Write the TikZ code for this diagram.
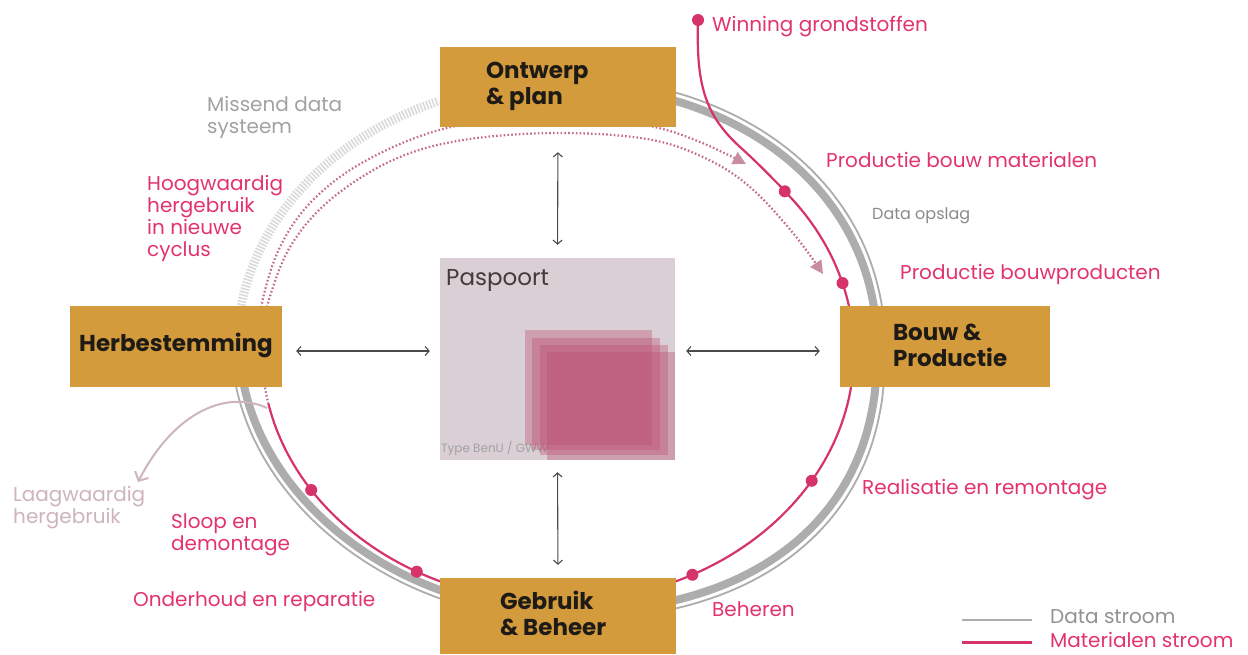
\documentclass[tikz,border=0pt]{standalone}
\usepackage{fontspec}
\setmainfont{Poppins}
\usetikzlibrary{arrows.meta}
\definecolor{gold}{HTML}{D49B3C}
\definecolor{magline}{HTML}{D6336A}
\definecolor{magtxt}{HTML}{E3336E}
\definecolor{ringc}{HTML}{ADADAD}
\definecolor{ringlt}{HTML}{DADADA}
\definecolor{dotmag}{HTML}{C46A8B}
\definecolor{dotarrow}{HTML}{C98DA2}
\definecolor{mauve}{HTML}{CDB4BE}
\definecolor{paspbg}{HTML}{D9CFD4}
\definecolor{pinksq}{HTML}{BD5175}
\definecolor{graytxt}{HTML}{A2A2A2}
\definecolor{darktxt}{HTML}{1E1A16}
\definecolor{arrowc}{HTML}{4A4A4A}
\begin{document}
\begin{tikzpicture}[x=1pt,y=-1pt,
  box/.style={fill=gold, draw=none, inner sep=0pt, minimum width=#1, anchor=center},
  boxtxt/.style={anchor=west, inner sep=0pt, font=\fontsize{23}{26}\selectfont\bfseries, text=darktxt, align=left},
  lab/.style={anchor=west, inner sep=0pt, font=\fontsize{20}{22}\selectfont, text=magtxt, align=left},
  thickring/.style={ringc, line width=8pt},
  thinring/.style={ringc, line width=1.8pt},
  matline/.style={magline, line width=2.2pt},
  dotline/.style={dotmag, line width=2.2pt, dash pattern=on 1.6pt off 2.2pt},
  dotarr/.style={-{Triangle[length=13pt,width=13pt,fill=dotarrow,color=dotarrow]}},
  link/.style={arrowc, line width=1.1pt, {Straight Barb[length=4pt,width=9pt]}-{Straight Barb[length=4pt,width=9pt]}},
  mdot/.style={magline}
]
\useasboundingbox[fill=white] (0,0) rectangle (1248,654);

% data ring (four quadrants)
\draw[thickring] plot[domain=0.01:89.99, samples=70] ({558+319*pow(cos(\x),0.952)},{348.5-263.5*pow(sin(\x),0.952)});
\draw[thickring] plot[domain=0.01:89.99, samples=70] ({558+319*pow(cos(\x),0.8696)},{348.5+263.5*pow(sin(\x),0.8696)});
\draw[thickring] plot[domain=0.01:89.99, samples=70] ({558-318*pow(cos(\x),1.0526)},{348.5+263.5*pow(sin(\x),1.0526)});
\draw[thinring] plot[domain=0.01:89.99, samples=70] ({558+327*pow(cos(\x),0.952)},{348.5-271.5*pow(sin(\x),0.952)});
\draw[thinring] plot[domain=0.01:89.99, samples=70] ({558+327*pow(cos(\x),0.8696)},{348.5+271.5*pow(sin(\x),0.8696)});
\draw[thinring] plot[domain=0.01:89.99, samples=70] ({558-326*pow(cos(\x),1.0526)},{348.5+271.5*pow(sin(\x),1.0526)});
% missing data system
\draw[ringlt, line width=9pt, dash pattern=on 1.6pt off 1.6pt] plot[domain=9.3:68.2, samples=60] ({558-321*cos(\x)},{348.5-266.5*sin(\x)});

% materials stream
\coordinate (win) at (698,20);
\draw[matline] (win) .. controls (696,85) and (705,115) .. (740,147) .. controls (760,165) and (772,178) .. (785,191)
  -- plot[domain=-40:168, samples=140] ({558+296*cos(\x)},{352+250*sin(\x)});
\draw[dotline] plot[domain=168:187, samples=20] ({558+296*cos(\x)},{352+250*sin(\x)});
\draw[dotline, dotarr] plot[smooth, tension=0.6] coordinates {(264,326) (262,303) (280,247) (313,200) (367,160) (447,128) (558,112) (650,126) (700,142) (746,164)};
\draw[dotline, dotarr] plot[smooth, tension=0.6] coordinates {(266,326) (268,303) (290,247) (330,200) (393,160) (463,140) (557,133) (647,139) (705,158) (750,187) (793,233) (823,274)};

% low-value reuse
\coordinate (lowa) at (267,408);
\coordinate (lowb) at (138,482);
\draw[mauve, line width=2pt, -{Straight Barb[length=7pt,width=15pt]}] (lowa) .. controls (228,390) and (175,410) .. (lowb);

% stage dots
\foreach \t in {-40,-16,31,63,118.5,146.5}
  \fill[mdot] ({558+296*cos(\t)},{352+250*sin(\t)}) circle (6pt);
\fill[mdot] (win) circle (6pt);

% boxes
\node[box=236pt, minimum height=80pt] (ontwerp) at (558,87) {};
\node[box=212pt, minimum height=81pt] (herb) at (176,346.5) {};
\node[box=210pt, minimum height=81pt] (bouw) at (945,346.5) {};
\node[box=236pt, minimum height=76pt] (gebruik) at (558,616) {};
\node[boxtxt] (ontwerpT) at ([xshift=46pt,yshift=1pt]ontwerp.west) {Ontwerp\\\& plan};
\node[boxtxt, anchor=center] (herbT) at ([yshift=1pt]herb.center) {Herbestemming};
\node[boxtxt] (bouwT) at ([xshift=53pt,yshift=1pt]bouw.west) {Bouw \&\\Productie};
\node[boxtxt] (gebruikT) at ([xshift=60pt,yshift=3pt]gebruik.west) {Gebruik\\\& Beheer};

% passport
\node[fill=paspbg, minimum width=235pt, minimum height=202pt, inner sep=0pt] (pasp) at (557.5,359) {};
\node[anchor=west, inner sep=0pt, font=\fontsize{23}{26}\selectfont, text=darktxt!85] (pasptxt) at (446,280) {Paspoort};
\node[anchor=west, inner sep=0pt, font=\fontsize{12}{14}\selectfont, text=graytxt] (ptype) at (441,448) {Type BenU / GWW};
\fill[pinksq, fill opacity=0.38] (525,330) rectangle (652,445);
\fill[pinksq, fill opacity=0.38] (532,338) rectangle (660,450);
\fill[pinksq, fill opacity=0.38] (540,345) rectangle (668,455);
\fill[pinksq, fill opacity=0.38] (547,352) rectangle (675,460);

% links
\draw[link, shorten <=25pt, shorten >=13pt] (ontwerp.south) -- (pasp.north);
\draw[link, shorten <=13pt, shorten >=12pt] (gebruik.north) -- (pasp.south);
\draw[link, shorten <=14pt, shorten >=10pt] ([yshift=-4.5pt]herb.east) -- ([yshift=-4.5pt]herb.east -| pasp.west);
\draw[link, shorten <=20pt, shorten >=11pt] ([yshift=-4.5pt]bouw.west) -- ([yshift=-4.5pt]bouw.west -| pasp.east);

% labels
\node[lab] (lwin) at (712,27) {Winning grondstoffen};
\node[lab] (lpbm) at (826,160) {Productie bouw materialen};
\node[lab, font=\fontsize{16}{18}\selectfont, text=graytxt!85!black] (lopslag) at (872,216) {Data opslag};
\node[lab] (lpbp) at (900,274) {Productie bouwproducten};
\node[lab] (lreal) at (862,490) {Realisatie en remontage};
\node[lab] (lbeh) at (712,609) {Beheren};
\node[lab] (lond) at (133,601) {Onderhoud en reparatie};
\node[lab] (lsloop) at (171,535) {Sloop en\\demontage};
\node[lab, text=mauve] (llaag) at (13,508) {Laagwaardig\\hergebruik};
\node[lab] (lhoog) at (147,218) {Hoogwaardig\\hergebruik\\in nieuwe\\cyclus};
\node[lab, text=graytxt] (lmiss) at (207,117) {Missend data\\systeem};

% legend
\coordinate (lg1a) at (962,620);
\coordinate (lg1b) at (1032,620);
\coordinate (lg2a) at (962,642);
\coordinate (lg2b) at (1032,642);
\draw[ringc, line width=2.4pt] (lg1a) -- (lg1b);
\draw[magline, line width=3pt] (lg2a) -- (lg2b);
\node[lab] (lmat) at (1050,640) {Materialen stroom};
\node[lab, text=graytxt!90!black] (ldata) at (1050,617) {Data stroom};
\end{tikzpicture}
\end{document}
